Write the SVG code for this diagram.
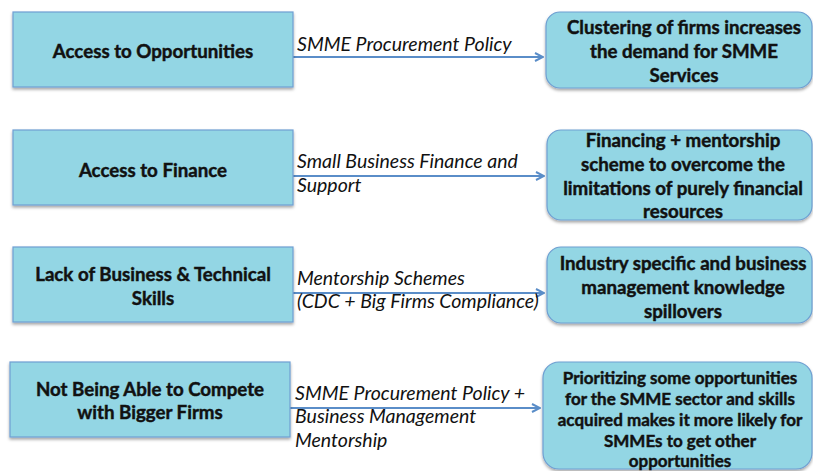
<svg xmlns="http://www.w3.org/2000/svg" width="813" height="471" viewBox="0 0 813 471">
  <defs>
    <filter id="shadow" x="-5%" y="-10%" width="110%" height="130%">
      <feDropShadow dx="0" dy="2" stdDeviation="1.5" flood-color="#000" flood-opacity="0.35"/>
    </filter>
    <marker id="arrowhead" viewBox="0 0 10 10" refX="9" refY="5" markerWidth="10" markerHeight="10" markerUnits="userSpaceOnUse" orient="auto">
      <path d="M1,1 L9,5 L1,9" fill="none" stroke="#5A8DC8" stroke-width="2"/>
    </marker>
    <style>
      .box { fill: #93D6E4; stroke: #6E9FD2; stroke-width: 1.2; filter: url(#shadow); }
      .head { font-family: Lato, "Open Sans", sans-serif; font-weight: bold; font-size: 18.7px; fill: #111; stroke: #111; stroke-width: 0.45; text-anchor: middle; }
      .small { font-size: 17px; }
      .lbl { font-family: Lato, "Open Sans", sans-serif; font-style: italic; font-size: 19.5px; fill: #111; }
      .conn { stroke: #5A8DC8; stroke-width: 2; fill: none; marker-end: url(#arrowhead); }
    </style>
  </defs>

  <rect width="813" height="471" fill="#fff"/>

  <!-- connectors with their policy labels -->
  <g id="connectors">
    <line class="conn" x1="293" y1="57" x2="543" y2="57"/>
    <line class="conn" x1="293" y1="176" x2="544" y2="176"/>
    <line class="conn" x1="293" y1="293" x2="544" y2="293"/>
    <line class="conn" x1="290" y1="408" x2="540" y2="408"/>
    <text class="lbl" x="297" y="51">SMME Procurement Policy</text>
    <text class="lbl" x="297" y="168">Small Business Finance and</text>
    <text class="lbl" x="297" y="192">Support</text>
    <text class="lbl" x="297" y="285">Mentorship Schemes</text>
    <text class="lbl" x="297" y="308">(CDC + Big Firms Compliance)</text>
    <text class="lbl" x="295" y="400">SMME Procurement Policy +</text>
    <text class="lbl" x="295" y="423">Business Management</text>
    <text class="lbl" x="295" y="447">Mentorship</text>
  </g>

  <!-- barriers -->
  <g id="barrier-opportunities">
    <rect class="box" x="13" y="12" width="280" height="75"/>
    <text class="head" x="153" y="58">Access to Opportunities</text>
  </g>
  <g id="barrier-finance">
    <rect class="box" x="13" y="130" width="280" height="75"/>
    <text class="head" x="153" y="177">Access to Finance</text>
  </g>
  <g id="barrier-skills">
    <rect class="box" x="13" y="247" width="280" height="75"/>
    <text class="head" x="153" y="281">Lack of Business &amp; Technical</text>
    <text class="head" x="153" y="305">Skills</text>
  </g>
  <g id="barrier-competition">
    <rect class="box" x="10" y="362" width="280" height="75"/>
    <text class="head" x="150" y="396">Not Being Able to Compete</text>
    <text class="head" x="150" y="419">with Bigger Firms</text>
  </g>

  <!-- outcomes -->
  <g id="outcome-clustering">
    <rect class="box" x="546" y="12" width="266" height="76" rx="14"/>
    <text class="head" x="684" y="34">Clustering of firms increases</text>
    <text class="head" x="684" y="58">the demand for SMME</text>
    <text class="head" x="684" y="82">Services</text>
  </g>
  <g id="outcome-financing">
    <rect class="box" x="547" y="130" width="265" height="90" rx="14"/>
    <text class="head" x="683" y="147">Financing + mentorship</text>
    <text class="head" x="683" y="171">scheme to overcome the</text>
    <text class="head" x="683" y="195">limitations of purely financial</text>
    <text class="head" x="683" y="218">resources</text>
  </g>
  <g id="outcome-knowledge">
    <rect class="box" x="547" y="247" width="265" height="76" rx="14"/>
    <text class="head" x="683" y="270">Industry specific and business</text>
    <text class="head" x="683" y="294">management knowledge</text>
    <text class="head" x="683" y="318">spillovers</text>
  </g>
  <g id="outcome-priority">
    <rect class="box" x="543" y="362" width="269" height="107" rx="16"/>
    <text class="head small" x="680" y="384">Prioritizing some opportunities</text>
    <text class="head small" x="680" y="405">for the SMME sector and skills</text>
    <text class="head small" x="680" y="426">acquired makes it more likely for</text>
    <text class="head small" x="680" y="447">SMMEs to get other</text>
    <text class="head small" x="680" y="467">opportunities</text>
  </g>
</svg>
